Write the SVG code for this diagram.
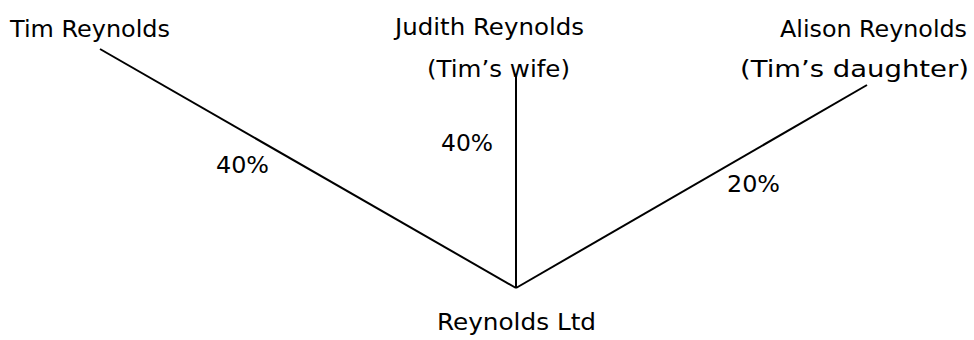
<svg xmlns="http://www.w3.org/2000/svg" width="974" height="340" viewBox="0 0 974 340">
  <style>
    text { font-family: "Comic Sans MS", "DejaVu Sans", sans-serif; font-size: 23px; fill: #000; }
    .link { stroke: #000; stroke-width: 2; fill: none; }
  </style>
  <rect width="974" height="340" fill="#fff"/>
  <g id="connectors">
    <line class="link" x1="100" y1="49" x2="516" y2="288"/>
    <line class="link" x1="516" y1="76" x2="516" y2="288"/>
    <line class="link" x1="867" y1="85" x2="516" y2="288"/>
    <text x="216" y="173" textLength="53" lengthAdjust="spacingAndGlyphs">40%</text>
    <text x="441" y="151" textLength="52" lengthAdjust="spacingAndGlyphs">40%</text>
    <text x="727" y="192" textLength="53" lengthAdjust="spacingAndGlyphs">20%</text>
  </g>
  <g id="tim">
    <text x="10" y="37" textLength="160" lengthAdjust="spacingAndGlyphs">Tim Reynolds</text>
  </g>
  <g id="judith">
    <text x="395" y="35" textLength="189" lengthAdjust="spacingAndGlyphs">Judith Reynolds</text>
    <text x="427" y="77" textLength="143" lengthAdjust="spacingAndGlyphs">(Tim’s wife)</text>
  </g>
  <g id="alison">
    <text x="780" y="37" textLength="187" lengthAdjust="spacingAndGlyphs">Alison Reynolds</text>
    <text x="740" y="77" textLength="229" lengthAdjust="spacingAndGlyphs">(Tim’s daughter)</text>
  </g>
  <g id="reynolds-ltd">
    <text x="437" y="330" textLength="159" lengthAdjust="spacingAndGlyphs">Reynolds Ltd</text>
  </g>
</svg>
